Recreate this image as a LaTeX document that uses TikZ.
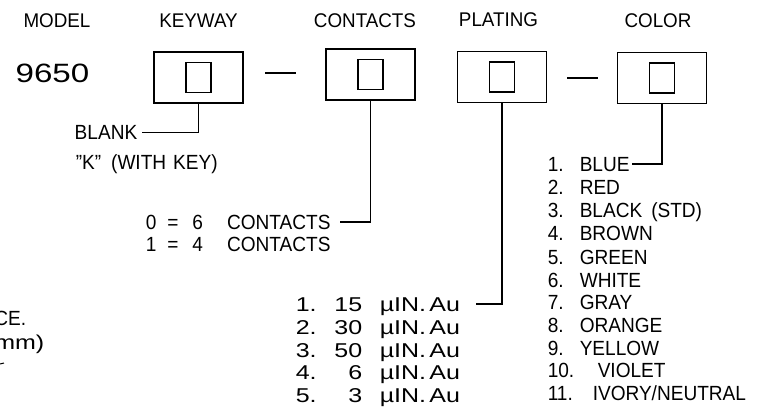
\documentclass[tikz,border=0pt]{standalone}
\usepackage{fontspec}
\setmainfont{Liberation Sans}
\newfontfamily\widefont[FakeStretch=1.25]{Liberation Sans}
\newfontfamily\listfont[FakeStretch=0.93]{Liberation Sans}
\newfontfamily\headfont[FakeStretch=0.95]{Liberation Sans}
\usetikzlibrary{positioning}

\begin{document}
\begin{tikzpicture}[x=1pt,y=-1pt,line width=1.5pt,
  head node/.style={inner sep=0pt,font=\headfont\fontsize{19.8}{22}\selectfont,text height=14.2pt,text depth=0pt},
  opt node/.style={inner sep=0pt,anchor=west,font=\listfont\fontsize{20.5}{22}\selectfont,text height=14.7pt,text depth=0pt},
  plate node/.style={inner sep=0pt,font=\widefont\fontsize{20}{22}\selectfont,text height=14.3pt,text depth=0pt},
  code box/.style={rectangle,draw,minimum width=89pt,minimum height=51pt},
  slot box/.style={rectangle,draw,minimum width=25pt,minimum height=30pt}]

  \useasboundingbox (0,0) rectangle (771,417);

  % headings
  \node[head node] (model) at (57,20) {MODEL};
  \node[head node] (keyway) at (198.5,20) {KEYWAY};
  \node[head node] (contacts) at (365,20) {CONTACTS};
  \node[head node] (plating) at (498.5,19) {PLATING};
  \node[head node] (color) at (658,20) {COLOR};

  \node[inner sep=0pt,font=\widefont\fontsize{26.5}{28}\selectfont,text height=19pt,text depth=0pt]
    (num) at (52.5,73.5) {9650};

  % code boxes
  \node[code box] (kbox) at (198.5,77.5) {};
  \node[slot box] (kslot) at (kbox) {};
  \node[code box] (cbox) at (370.5,74.5) {};
  \node[slot box] (cslot) at (cbox) {};
  \node[code box] (pbox) at (502,77) {};
  \node[slot box] (pslot) at (pbox) {};
  \node[code box] (colbox) at (662,78) {};
  \node[slot box] (colslot) at (colbox) {};

  \draw (265,73) -- (296,73);
  \draw (567,78) -- (598,78);

  % keyway
  \node[opt node,anchor=east] (blank) at (138,132.5) {BLANK};
  \node[opt node] (withkey) at (75,162) {”K”\hspace{10pt}(WITH\hspace{7pt}KEY)};

  % contacts
  \node[opt node] (six) at (145,222) {0\hspace{11pt}=\hspace{14pt}6\hspace{24pt}CONTACTS};
  \node[opt node] (four) at (145,244) {1\hspace{11pt}=\hspace{14pt}4\hspace{24pt}CONTACTS};

  % plating
  \node[plate node,anchor=west] (p1) at (295,304) {1.};
  \node[plate node,anchor=west] (p2) at (295,327) {2.};
  \node[plate node,anchor=west] (p3) at (295,350) {3.};
  \node[plate node,anchor=west] (p4) at (295,372) {4.};
  \node[plate node,anchor=west] (p5) at (295,395) {5.};
  \node[plate node,anchor=east] (v1) at (363,304) {15};
  \node[plate node,anchor=east] (v2) at (363,327) {30};
  \node[plate node,anchor=east] (v3) at (363,350) {50};
  \node[plate node,anchor=east] (v4) at (363,372) {6};
  \node[plate node,anchor=east] (v5) at (363,395) {3};
  \node[plate node,anchor=west] (au1) at (379,304) {µIN.\,Au};
  \node[plate node,anchor=west] (au2) at (379,327) {µIN.\,Au};
  \node[plate node,anchor=west] (au3) at (379,350) {µIN.\,Au};
  \node[plate node,anchor=west] (au4) at (379,372) {µIN.\,Au};
  \node[plate node,anchor=west] (au5) at (379,395) {µIN.\,Au};

  % colors
  \node[opt node] (c1) at (547,164) {1.};
  \node[opt node] (c2) at (547,187) {2.};
  \node[opt node] (c3) at (547,210) {3.};
  \node[opt node] (c4) at (547,233) {4.};
  \node[opt node] (c5) at (547,257) {5.};
  \node[opt node] (c6) at (547,280) {6.};
  \node[opt node] (c7) at (547,302) {7.};
  \node[opt node] (c8) at (547,325) {8.};
  \node[opt node] (c9) at (547,348) {9.};
  \node[opt node] (c10) at (547,370) {10.};
  \node[opt node] (c11) at (547,393) {11.};
  \node[opt node] (blue) at (579,164) {BLUE};
  \node[opt node] (red) at (579,187) {RED};
  \node[opt node] (black) at (579,210) {BLACK\hspace{9pt}(STD)};
  \node[opt node] (brown) at (579,233) {BROWN};
  \node[opt node] (green) at (579,257) {GREEN};
  \node[opt node] (white) at (579,280) {WHITE};
  \node[opt node] (gray) at (579,302) {GRAY};
  \node[opt node] (orange) at (579,325) {ORANGE};
  \node[opt node] (yellow) at (579,348) {YELLOW};
  \node[opt node] (violet) at (597,370) {VIOLET};
  \node[opt node] (ivory) at (592,393) {IVORY/NEUTRAL};

  % note, cut off at the left edge
  \node[opt node,anchor=east] (noteb) at (27,318) {CE.};
  \node[plate node,anchor=east] (notec) at (45,342) {mm)};
  \draw[line width=1pt] (0,364) -- (4,363);

  % leaders
  \draw (kbox.south) |- ([xshift=4pt]blank.east);
  \draw (cbox.south) |- ([xshift=9pt]six.east);
  \draw (pbox.south) |- ([xshift=15pt]au1.east);
  \draw (colbox.south) |- ([xshift=2pt]blue.east);

\end{tikzpicture}
\end{document}
